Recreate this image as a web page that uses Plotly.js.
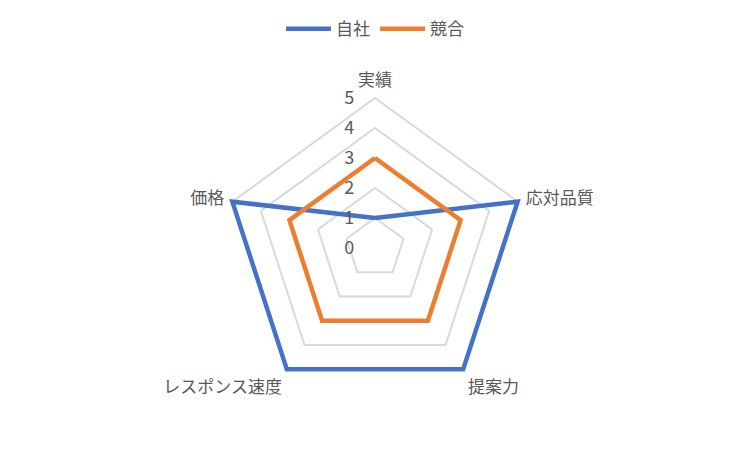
<!DOCTYPE html>
<html><head><meta charset="utf-8">
<script src="https://cdn.plot.ly/plotly-3.0.1.min.js"></script>
<style>html,body{margin:0;padding:0;background:#fff}#c{width:750px;height:450px}</style>
</head><body><div id="c"></div>
<script>
const categories = ['実績','応対品質','提案力','レスポンス速度','価格'];
const ownValues = [1,5,5,5,5];
const rivalValues = [3,3,3,3,3];
const seriesNames = ['自社','競合'];
const tickVals = [0,1,2,3,4,5];

const close = a => a.concat([a[0]]);
const data = [
  {type:'scatterpolar', r: close(ownValues), theta: close(categories), name: seriesNames[0],
   mode:'lines', cliponaxis:false, line:{color:'#4472C4', width:4.5}},
  {type:'scatterpolar', r: close(rivalValues), theta: close(categories), name: seriesNames[1],
   mode:'lines', cliponaxis:false, line:{color:'#ED7D31', width:4.5}}
];
const layout = {
  width:750, height:450,
  margin:{l:0,r:0,t:0,b:0},
  paper_bgcolor:'#fff',
  font:{family:'"Noto Sans CJK JP", sans-serif', color:'#595959', size:17},
  showlegend:true,
  legend:{orientation:'h', x:0.5, xanchor:'center', y:0.975, yanchor:'top', itemwidth:45,
    font:{size:17, color:'#595959'}},
  polar:{
    domain:{x:[0.294,0.706], y:[0.1056,0.7922]},
    gridshape:'linear',
    layer:'below traces',
    bgcolor:'rgba(0,0,0,0)',
    angularaxis:{rotation:90, direction:'clockwise', showgrid:false, showline:false,
      ticks:'outside', ticklen:0, tickcolor:'rgba(0,0,0,0)',
      tickfont:{size:17, color:'#595959'}},
    radialaxis:{range:[0,5.15], tickvals:tickVals, showline:false, angle:90, tickangle:90,
      ticks:'outside', ticklen:14, tickcolor:'rgba(0,0,0,0)',
      gridcolor:'#d9d9d9', gridwidth:1.5, tickfont:{size:18, color:'#595959'}, side:'counterclockwise'}
  }
};
Plotly.newPlot('c', data, layout, {displayModeBar:false});
</script></body></html>
